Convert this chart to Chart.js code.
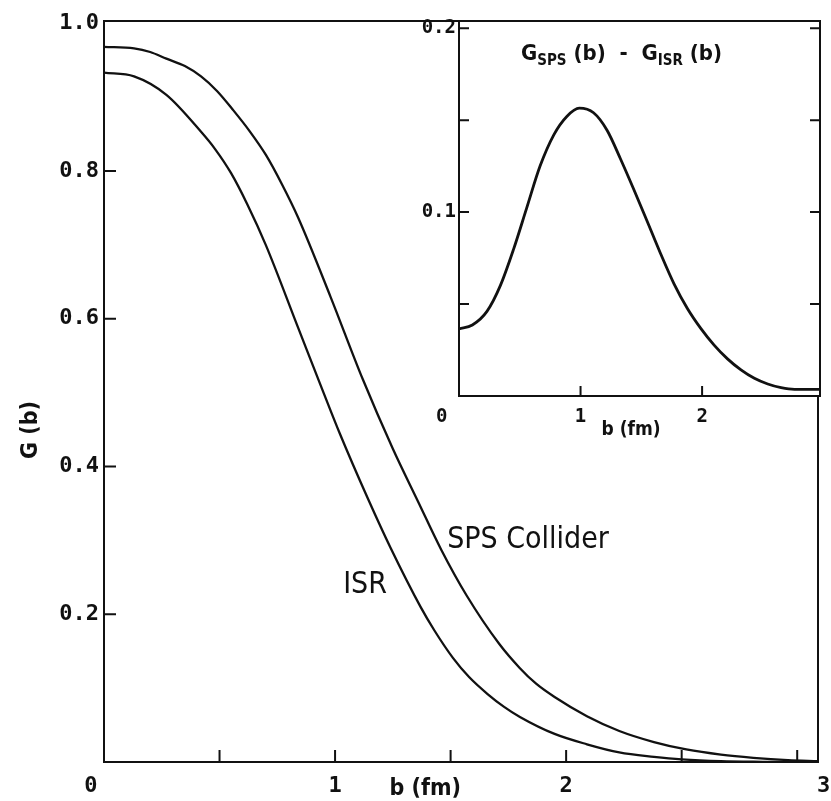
<!DOCTYPE html>
<html>
<head>
<meta charset="utf-8">
<script src="https://cdn.jsdelivr.net/npm/chart.js@4.4.1/dist/chart.umd.min.js"></script>
<style>
  html, body { margin: 0; padding: 0; background: #fff; }
  #wrap { position: relative; width: 831px; height: 801px; }
  #mainChart { position: absolute; left: 0; top: 0; }
  #insetChart { position: absolute; left: 400px; top: 0; }
</style>
</head>
<body>
<div id="wrap">
  <canvas id="mainChart" width="831" height="801"></canvas>
  <canvas id="insetChart" width="431" height="445"></canvas>
</div>
<script>
// main panel : G(b) for the SPS collider and the ISR
const bSps = [0, 0.13, 0.20, 0.27, 0.35, 0.42, 0.49, 0.56, 0.63, 0.70, 0.77, 0.84, 0.98, 1.12, 1.25, 1.36, 1.46, 1.57, 1.71, 1.80, 1.87, 1.95, 2.09, 2.23, 2.38, 2.52, 2.67, 2.81, 2.96, 3.09];
const gSps = [0.968, 0.966, 0.961, 0.952, 0.942, 0.928, 0.908, 0.882, 0.854, 0.822, 0.782, 0.737, 0.630, 0.518, 0.424, 0.352, 0.287, 0.225, 0.160, 0.127, 0.106, 0.088, 0.062, 0.042, 0.027, 0.017, 0.010, 0.0057, 0.0025, 0.001];
const bIsr = [0, 0.13, 0.27, 0.42, 0.48, 0.55, 0.62, 0.70, 0.84, 0.95, 1.02, 1.14, 1.24, 1.37, 1.43, 1.51, 1.58, 1.66, 1.73, 1.80, 1.95, 2.09, 2.23, 2.38, 2.50, 2.67, 2.85, 3.09];
const gIsr = [0.933, 0.928, 0.903, 0.853, 0.830, 0.797, 0.755, 0.700, 0.588, 0.500, 0.445, 0.358, 0.290, 0.210, 0.178, 0.141, 0.115, 0.092, 0.075, 0.061, 0.038, 0.024, 0.013, 0.007, 0.0035, 0.001, 0.0003, 0];

// inset : G_SPS(b) - G_ISR(b)
const bDiff = [0, 0.11, 0.23, 0.34, 0.45, 0.556, 0.667, 0.78, 0.887, 0.99, 1.107, 1.218, 1.328, 1.44, 1.548, 1.658, 1.769, 1.879, 1.989, 2.099, 2.209, 2.320, 2.430, 2.540, 2.650, 2.760, 2.967];
const gDiff = [0.0365, 0.0386, 0.046, 0.060, 0.080, 0.102, 0.125, 0.142, 0.152, 0.1565, 0.154, 0.1445, 0.129, 0.112, 0.095, 0.0775, 0.061, 0.0476, 0.0368, 0.0277, 0.0202, 0.0142, 0.0096, 0.0065, 0.0045, 0.0036, 0.0036];

// ticks
const mainXTicks = [0, 0.5, 1, 1.5, 2, 2.5, 3];
const mainYTicks = [0, 0.2, 0.4, 0.6, 0.8, 1.0];
const insetXTicks = [0, 1, 2];
const insetYTicks = [0, 0.05, 0.1, 0.15, 0.2];

const ink = '#111';
const toPoints = (xs, ys) => xs.map((x, i) => ({ x: x, y: ys[i] }));

// box around the plot + ticks pointing inwards + free texts
const framePlugin = {
  id: 'frame',
  beforeDraw(chart, args, opts) {
    if (!opts.fill) return;
    const { ctx, chartArea: a } = chart;
    ctx.save();
    ctx.fillStyle = '#fff';
    ctx.fillRect(a.left, a.top, a.right - a.left, a.bottom - a.top);
    ctx.restore();
  },
  afterDraw(chart, args, opts) {
    const { ctx, chartArea: a } = chart;
    const xs = chart.scales.x, ys = chart.scales.y;
    ctx.save();
    ctx.strokeStyle = ink;
    ctx.lineWidth = opts.lineWidth;
    ctx.strokeRect(a.left, a.top, a.right - a.left, a.bottom - a.top);
    ctx.beginPath();
    opts.xMarks.forEach(v => {
      const px = xs.getPixelForValue(v);
      ctx.moveTo(px, a.bottom);
      ctx.lineTo(px, a.bottom - opts.len);
    });
    opts.yMarks.forEach(v => {
      const py = ys.getPixelForValue(v);
      ctx.moveTo(a.left, py);
      ctx.lineTo(a.left + opts.len, py);
      if (opts.mirror) {
        ctx.moveTo(a.right, py);
        ctx.lineTo(a.right - opts.len, py);
      }
    });
    ctx.stroke();
    ctx.fillStyle = ink;
    if (opts.texts) opts.texts(ctx, xs, ys, a);
    ctx.restore();
  }
};

const tickFont = { family: 'DejaVu Sans Mono', size: 22, weight: 'bold' };

// the old plot puts "0" left of the corner and "3" right of its tick
function mainXLabel(v) {
  if (v === 0) return '0  ';
  if (v === 3) return '    3';
  return Number.isInteger(v) ? String(v) : '';
}

new Chart(document.getElementById('mainChart'), {
  type: 'line',
  data: {
    datasets: [
      { label: 'SPS Collider', data: toPoints(bSps, gSps) },
      { label: 'ISR', data: toPoints(bIsr, gIsr) }
    ]
  },
  options: {
    responsive: false,
    animation: false,
    devicePixelRatio: 1,
    layout: { padding: { top: 21, right: 13, left: 0, bottom: 0 } },
    elements: {
      line: { borderColor: ink, borderWidth: 2.3, cubicInterpolationMode: 'monotone' },
      point: { radius: 0 }
    },
    plugins: {
      legend: { display: false },
      tooltip: { enabled: false },
      frame: {
        lineWidth: 2,
        len: 12,
        xMarks: mainXTicks.slice(1),
        yMarks: mainYTicks.slice(1, 5),
        texts: function(ctx, xs, ys, a) {
          ctx.font = '30px "DejaVu Sans Condensed", "DejaVu Sans"';
          ctx.textBaseline = 'alphabetic';
          ctx.textAlign = 'left';
          ctx.fillText('SPS Collider', xs.getPixelForValue(1.485), ys.getPixelForValue(0.29));
          ctx.fillText('ISR', xs.getPixelForValue(1.035), ys.getPixelForValue(0.229));
          ctx.font = 'bold 23px "DejaVu Sans Condensed", "DejaVu Sans"';
          ctx.textAlign = 'center';
          ctx.textBaseline = 'middle';
          ctx.fillText('b (fm)', xs.getPixelForValue(1.39), 789);
          ctx.save();
          ctx.translate(31, 430);
          ctx.rotate(-Math.PI / 2);
          ctx.fillText('G (b)', 0, 0);
          ctx.restore();
        }
      }
    },
    scales: {
      x: {
        type: 'linear', min: 0, max: 3.09,
        afterBuildTicks: s => { s.ticks = mainXTicks.map(v => ({ value: v })); },
        afterFit: s => { s.height = 39; s.paddingLeft = 0; s.paddingRight = 0; },
        grid: { display: false, drawTicks: false },
        border: { display: false },
        ticks: {
          autoSkip: false, maxRotation: 0, padding: 11, color: ink, font: tickFont,
          callback: mainXLabel
        }
      },
      y: {
        type: 'linear', min: 0, max: 1.003,
        afterBuildTicks: s => { s.ticks = mainYTicks.map(v => ({ value: v })); },
        afterFit: s => { s.width = 104; },
        grid: { display: false, drawTicks: false },
        border: { display: false },
        ticks: {
          padding: 5, color: ink, font: tickFont,
          callback: v => v === 0 ? '' : v.toFixed(1)
        }
      }
    }
  },
  plugins: [framePlugin]
});

const insetFont = { family: 'DejaVu Sans Mono', size: 19, weight: 'bold' };

new Chart(document.getElementById('insetChart'), {
  type: 'line',
  data: {
    datasets: [{ label: 'GSPS(b) - GISR(b)', data: toPoints(bDiff, gDiff) }]
  },
  options: {
    responsive: false,
    animation: false,
    devicePixelRatio: 1,
    layout: { padding: { top: 21, right: 11, left: 0, bottom: 0 } },
    elements: {
      line: { borderColor: ink, borderWidth: 2.8, cubicInterpolationMode: 'monotone' },
      point: { radius: 0 }
    },
    plugins: {
      legend: { display: false },
      tooltip: { enabled: false },
      frame: {
        fill: true,
        lineWidth: 2,
        len: 10,
        mirror: true,
        xMarks: insetXTicks.slice(1),
        yMarks: insetYTicks.slice(1),
        texts: function(ctx, xs, ys, a) {
          const big = 'bold 22px "DejaVu Sans Condensed", "DejaVu Sans"';
          const sub = 'bold 15px "DejaVu Sans Condensed", "DejaVu Sans"';
          const parts = [['G', big, 0], ['SPS', sub, 5], [' (b)  -  G', big, 0], ['ISR', sub, 5], [' (b)', big, 0]];
          let x = 121;
          ctx.textAlign = 'left';
          ctx.textBaseline = 'alphabetic';
          parts.forEach(p => {
            ctx.font = p[1];
            ctx.fillText(p[0], x, 60 + p[2]);
            x += ctx.measureText(p[0]).width;
          });
          ctx.font = 'bold 19px "DejaVu Sans Condensed", "DejaVu Sans"';
          ctx.textAlign = 'center';
          ctx.textBaseline = 'middle';
          ctx.fillText('b (fm)', 231, 430);
        }
      }
    },
    scales: {
      x: {
        type: 'linear', min: 0, max: 2.97,
        afterBuildTicks: s => { s.ticks = insetXTicks.map(v => ({ value: v })); },
        afterFit: s => { s.height = 49; },
        grid: { display: false, drawTicks: false },
        border: { display: false },
        ticks: {
          autoSkip: false, maxRotation: 0, padding: 10, color: ink, font: insetFont,
          callback: v => v === 0 ? '0   ' : String(v)
        }
      },
      y: {
        type: 'linear', min: 0, max: 0.2039,
        afterBuildTicks: s => { s.ticks = insetYTicks.map(v => ({ value: v })); },
        afterFit: s => { s.width = 59; },
        grid: { display: false, drawTicks: false },
        border: { display: false },
        ticks: {
          padding: 3, color: ink, font: insetFont,
          callback: v => (v === 0.1 || v === 0.2) ? v.toFixed(1) : ''
        }
      }
    }
  },
  plugins: [framePlugin]
});
</script>
</body>
</html>
